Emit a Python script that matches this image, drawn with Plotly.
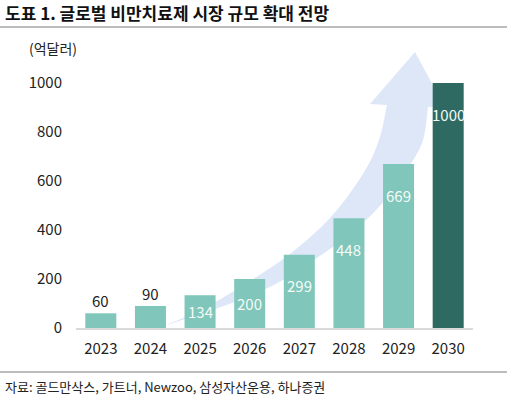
import plotly.graph_objects as go

years = ["2023", "2024", "2025", "2026", "2027", "2028", "2029", "2030"]
market = [60, 90, 134, 200, 299, 448, 669, 1000]
outside_label_years = ["2023", "2024"]
y_ticks = [0, 200, 400, 600, 800, 1000]

LIGHT = "#80C6BA"
DARK = "#2E6A62"
ARROW = "#DDE7F8"
FONT = "Noto Sans CJK KR"

W, H = 507, 398
L, R, T, B = 76, 34, 83, 70
PW, PH = W - L - R, H - T - B


def px2paper(x, y):
    return (x - L) / PW, (H - B - y) / PH


def smooth(points):
    # Catmull-Rom -> cubic bezier segments
    segs = []
    for i in range(len(points) - 1):
        p0 = points[i - 1] if i > 0 else points[i]
        p1 = points[i]
        p2 = points[i + 1]
        p3 = points[i + 2] if i + 2 < len(points) else points[i + 1]
        c1 = (p1[0] + (p2[0] - p0[0]) / 6, p1[1] + (p2[1] - p0[1]) / 6)
        c2 = (p2[0] - (p3[0] - p1[0]) / 6, p2[1] - (p3[1] - p1[1]) / 6)
        segs.append((c1, c2, p2))
    return segs


def fmt(pt):
    x, y = px2paper(*pt)
    return f"{x:.4f},{y:.4f}"


upper = [(160, 327), (183, 318), (217, 301), (250, 281), (290, 254), (330, 218),
         (363, 174), (379, 140), (387, 105)]
head = [(370, 104), (415, 52), (444, 106), (428, 107)]
lower = [(428, 107), (423, 140), (410, 165), (385, 200), (355, 230), (317, 258),
         (283, 280), (250, 296), (218, 308), (185, 319), (160, 327)]

path = "M " + fmt(upper[0])
for c1, c2, p in smooth(upper):
    path += f" C {fmt(c1)} {fmt(c2)} {fmt(p)}"
for p in head:
    path += f" L {fmt(p)}"
for c1, c2, p in smooth(lower):
    path += f" C {fmt(c1)} {fmt(c2)} {fmt(p)}"
path += " Z"

colors = [DARK if y == years[-1] else LIGHT for y in years]

fig = go.Figure()
fig.add_trace(go.Bar(
    x=years, y=market, marker=dict(color=colors, line=dict(width=0)),
    hoverinfo="skip",
))

annotations = []
scale = PH / 1000
for i, (yr, v) in enumerate(zip(years, market)):
    if yr in outside_label_years:
        annotations.append(dict(x=i, y=v, xref="x", yref="y", text=str(v),
                                showarrow=False, yanchor="bottom", yshift=0,
                                font=dict(family=FONT, size=15, color="#222222")))
    else:
        shift = -min(31, v * scale / 2)
        annotations.append(dict(x=i, y=v, xref="x", yref="y", text=str(v),
                                showarrow=False, yanchor="middle", yshift=shift,
                                font=dict(family=FONT, size=15, color="#F4FBF9")))

page_texts = [
    (3, 12, "<b>도표 1. 글로벌 비만치료제 시장 규모 확대 전망</b>", 17, "#111111"),
    (27, 48, "(억달러)", 14, "#222222"),
    (3, 386, "자료: 골드만삭스, 가트너, Newzoo, 삼성자산운용, 하나증권", 13, "#222222"),
]
for px, py, txt, sz, col in page_texts:
    xx, yy = px2paper(px, py)
    annotations.append(dict(x=xx, y=yy, xref="paper", yref="paper", xanchor="left",
                            yanchor="middle", text=txt, showarrow=False,
                            font=dict(family=FONT, size=sz, color=col)))

shapes = [
    dict(type="path", path=path, xref="paper", yref="paper", fillcolor=ARROW,
         line=dict(width=0), layer="below"),
]
for yy in (27, 372):
    x0, y0 = px2paper(0, yy)
    x1, _ = px2paper(W, yy)
    shapes.append(dict(type="line", xref="paper", yref="paper", x0=x0, x1=x1, y0=y0, y1=y0,
                       line=dict(color="#A6A6A6", width=1.5)))

fig.update_layout(
    width=W, height=H,
    margin=dict(l=L, r=R, t=T, b=B, pad=0),
    paper_bgcolor="white", plot_bgcolor="rgba(0,0,0,0)",
    showlegend=False, bargap=0.375,
    font=dict(family=FONT, size=15, color="#222222"),
    annotations=annotations, shapes=shapes,
    xaxis=dict(type="category", range=[-0.5, len(years) - 0.5], showline=True,
               linecolor="#D9D9D9", linewidth=2,
               showgrid=False, ticks="outside", ticklen=6, tickcolor="rgba(0,0,0,0)",
               tickfont=dict(family=FONT, size=15, color="#222222"), fixedrange=True),
    yaxis=dict(range=[0, 1000], tickvals=y_ticks, showgrid=False, zeroline=False,
               showline=False, ticks="outside", ticklen=10, tickcolor="rgba(0,0,0,0)",
               tickfont=dict(family=FONT, size=15, color="#222222"), fixedrange=True),
)

fig.write_html(
    "out.html",
    config={"displayModeBar": False},
    post_script="document.body.style.margin='0';document.body.style.overflow='hidden';",
)
